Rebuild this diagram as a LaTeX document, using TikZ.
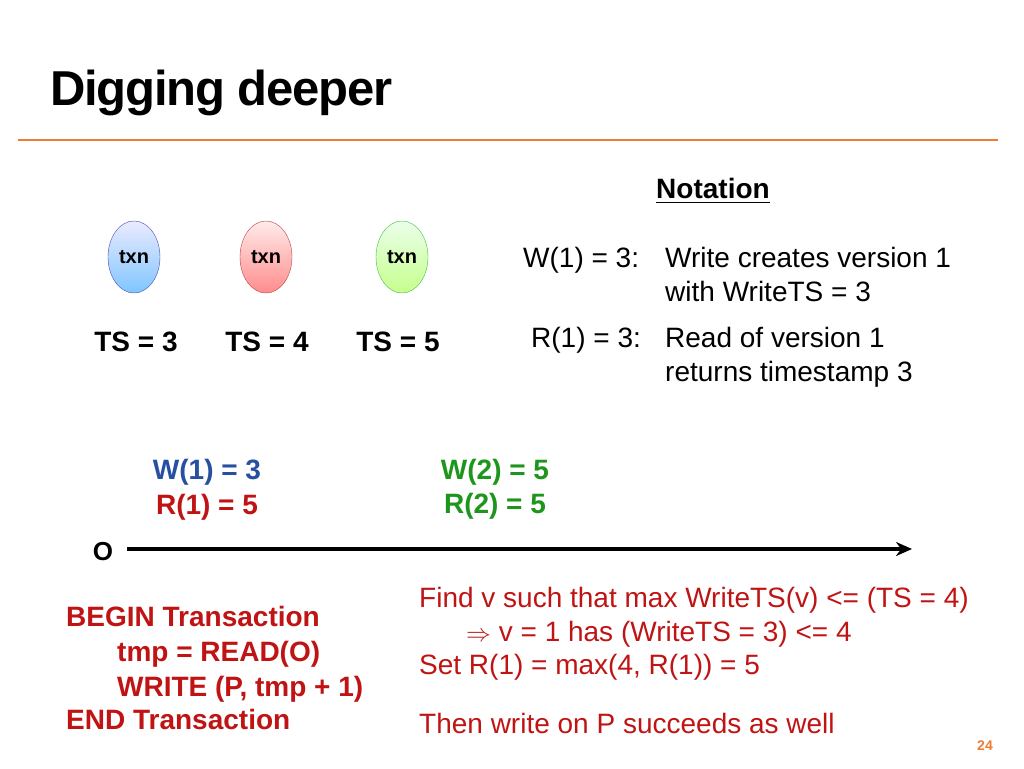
\documentclass[tikz,border=0pt]{standalone}
\usepackage{fontspec}
\setmainfont{Liberation Sans}
\usepackage{amssymb}
\usetikzlibrary{shapes.geometric,arrows.meta}
\begin{document}
\begin{tikzpicture}[x=1pt,y=-1pt,
  txt/.style={font=\fontsize{28}{32}\selectfont,inner sep=0pt,anchor=base west},
  bt/.style={font=\bfseries\fontsize{28}{32}\selectfont,inner sep=0pt},
  txnnode/.style={ellipse,draw,minimum width=52pt,minimum height=72pt,inner sep=0pt,font=\bfseries\fontsize{20}{24}\selectfont}]
\definecolor{myorange}{RGB}{237,125,49}
\definecolor{myred}{RGB}{192,20,20}
\definecolor{myblue}{RGB}{40,80,160}
\definecolor{mygreen}{RGB}{30,150,30}
\useasboundingbox (0,0) rectangle (1024,768);
\fill[white] (0,0) rectangle (1024,768);
\node[font=\bfseries\fontsize{49}{54}\selectfont,anchor=base west,inner sep=0pt] (title) at (50,105) {\addfontfeature{LetterSpace=-2.5}Digging deeper};
\draw[myorange,line width=2.5pt] (18,140) -- (998,140);
\node[bt,anchor=base] (not) at (713,198) {\underline{Notation}};
\node[txnnode,top color=blue!8,bottom color=blue!45!cyan!50,draw=blue!40!gray] (t1) at (134,257) {txn};
\node[txnnode,top color=red!8,bottom color=red!45,draw=red!50!gray] (t2) at (266,257) {txn};
\node[txnnode,top color=green!8,bottom color=green!50!yellow!45,draw=green!50!gray] (t3) at (402,257) {txn};
\node[bt,anchor=base] (ts1) at (136,351) {TS = 3};
\node[bt,anchor=base] (ts2) at (267,351) {TS = 4};
\node[bt,anchor=base] (ts3) at (398,351) {TS = 5};
\node[txt] (w13) at (523,267) {W(1) = 3:};
\node[txt] (d1) at (665,267) {Write creates version 1};
\node[txt] (d2) at (665,301) {with WriteTS = 3};
\node[txt] (r13) at (531,347) {R(1) = 3:};
\node[txt] (d3) at (665,347) {Read of version 1};
\node[txt] (d4) at (665,381) {returns timestamp 3};
\node[bt,anchor=base,text=myblue] (w1) at (207,479) {W(1) = 3};
\node[bt,anchor=base,text=myred] (r1) at (207,514) {R(1) = 5};
\node[bt,anchor=base,text=mygreen] (w2) at (495,479) {W(2) = 5};
\node[bt,anchor=base,text=mygreen] (r2) at (495,513) {R(2) = 5};
\node[bt,anchor=base,font=\bfseries\fontsize{26}{30}\selectfont] (o) at (103,560) {O};
\coordinate (aend) at (912,549);
\draw[line width=3.5pt,-{Stealth[length=16pt,width=14pt]}] (127,549) -- (aend);
\begin{scope}[every node/.style={bt,anchor=base west,text=myred}]
\node (b1) at (66,626) {BEGIN Transaction};
\node (b2) at (117,661) {tmp = READ(O)};
\node (b3) at (117,696) {WRITE (P, tmp + 1)};
\node (b4) at (66,729) {END Transaction};
\end{scope}
\begin{scope}[every node/.style={txt,text=myred}]
\node (f1) at (419,607) {Find v such that max WriteTS(v) <= (TS = 4)};
\node (f2) at (466,641) {$\Rightarrow$ v = 1 has (WriteTS = 3) <= 4};
\node (f3) at (419,674) {Set R(1) = max(4, R(1)) = 5};
\node (f4) at (419,733) {Then write on P succeeds as well};
\end{scope}
\node[font=\bfseries\fontsize{14}{16}\selectfont,text=myorange,inner sep=0pt] (pg) at (985,746) {24};
\end{tikzpicture}
\end{document}
